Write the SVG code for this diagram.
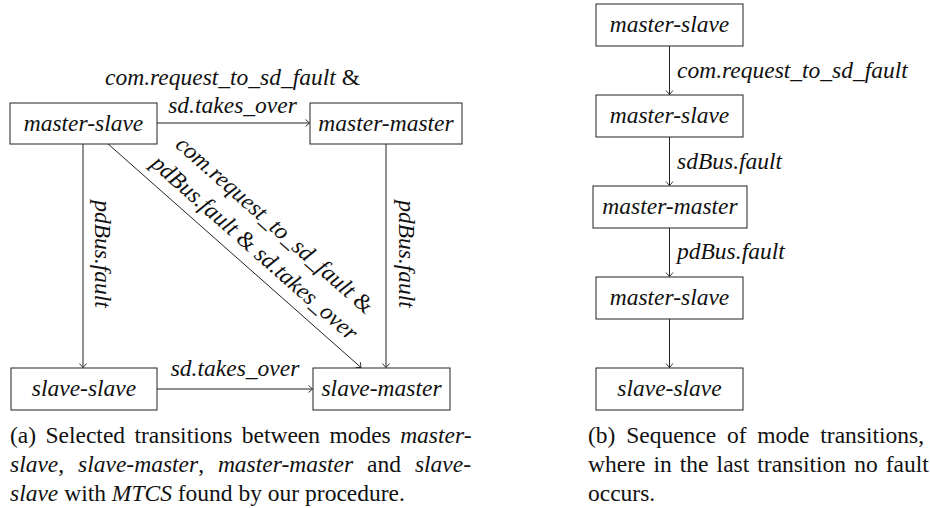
<svg xmlns="http://www.w3.org/2000/svg" width="930" height="508" viewBox="0 0 930 508" font-family="'Liberation Serif', 'DejaVu Serif', serif">
<style>
text{font-family:'Liberation Serif','DejaVu Serif',serif;font-size:23.5px;fill:#111}
.i{font-style:italic}
.c{text-anchor:middle}
.box{fill:#fff;stroke:#222;stroke-width:1}
.edge{fill:none;stroke:#222;stroke-width:1;marker-end:url(#arr)}
</style>
<defs>
<marker id="arr" markerUnits="userSpaceOnUse" viewBox="-6 -5 8 10" refX="0" refY="0" markerWidth="8" markerHeight="10" orient="auto">
<path d="M-4,-3.5 Q-1,-1 0,0 Q-1,1 -4,3.5" fill="none" stroke="#222" stroke-width="0.9"/>
</marker>
</defs>
<g id="connectors">
<line class="edge" x1="157" y1="123" x2="309.5" y2="123"/>
<line class="edge" x1="83" y1="144" x2="83" y2="367.5"/>
<line class="edge" x1="386" y1="144" x2="386" y2="367.5"/>
<line class="edge" x1="107" y1="143" x2="361" y2="367.5"/>
<line class="edge" x1="157" y1="389" x2="312.5" y2="389"/>
<line class="edge" x1="669.5" y1="46" x2="669.5" y2="94.5"/>
<line class="edge" x1="669.5" y1="137" x2="669.5" y2="185.5"/>
<line class="edge" x1="669.5" y1="228" x2="669.5" y2="276.5"/>
<line class="edge" x1="669.5" y1="319" x2="669.5" y2="367.5"/>
<text class="i c" x="232.5" y="85">com.request_to_sd_fault <tspan font-style="normal">&amp;</tspan></text>
<text class="i c" x="232.5" y="113">sd.takes_over</text>
<text class="i c" transform="translate(95,254) rotate(90)">pdBus.fault</text>
<text class="i c" transform="translate(399,254) rotate(90)">pdBus.fault</text>
<g transform="translate(107,143) rotate(41.4)">
<text class="i c" x="180" y="-42">com.request_to_sd_fault <tspan font-style="normal">&amp;</tspan></text>
<text class="i c" x="180" y="-11.5">pdBus.fault <tspan font-style="normal">&amp;</tspan> sd.takes_over</text>
</g>
<text class="i c" x="235" y="376">sd.takes_over</text>
<text class="i" x="677" y="78">com.request_to_sd_fault</text>
<text class="i" x="677" y="169">sdBus.fault</text>
<text class="i" x="677" y="259">pdBus.fault</text>
</g>
<g id="a-master-slave"><rect class="box" x="10" y="103" width="147" height="41"/><text class="i c" x="83.5" y="130.5">master-slave</text></g>
<g id="a-master-master"><rect class="box" x="310" y="103" width="152" height="41"/><text class="i c" x="386" y="130.5">master-master</text></g>
<g id="a-slave-slave"><rect class="box" x="11" y="368" width="146" height="42"/><text class="i c" x="84" y="396">slave-slave</text></g>
<g id="a-slave-master"><rect class="box" x="313" y="368" width="137" height="42"/><text class="i c" x="381.5" y="396">slave-master</text></g>
<g id="b-master-slave-1"><rect class="box" x="596" y="4" width="147" height="42"/><text class="i c" x="669.5" y="32">master-slave</text></g>
<g id="b-master-slave-2"><rect class="box" x="596" y="95" width="147" height="42"/><text class="i c" x="669.5" y="123">master-slave</text></g>
<g id="b-master-master"><rect class="box" x="593" y="186" width="154" height="42"/><text class="i c" x="670" y="214">master-master</text></g>
<g id="b-master-slave-3"><rect class="box" x="596" y="277" width="147" height="42"/><text class="i c" x="669.5" y="305">master-slave</text></g>
<g id="b-slave-slave"><rect class="box" x="596" y="368" width="147" height="42"/><text class="i c" x="669.5" y="396">slave-slave</text></g>
<g id="caption-a">
<text x="10" y="443" word-spacing="3.5">(a) Selected transitions between modes <tspan class="i">master-</tspan></text>
<text x="10" y="472" word-spacing="8"><tspan class="i">slave</tspan>, <tspan class="i">slave-master</tspan>, <tspan class="i">master-master</tspan> and <tspan class="i">slave-</tspan></text>
<text x="10" y="501"><tspan class="i">slave</tspan> with <tspan class="i">MTCS</tspan> found by our procedure.</text>
</g>
<g id="caption-b">
<text x="588" y="443" word-spacing="4.9">(b) Sequence of mode transitions,</text>
<text x="588" y="472" word-spacing="2.2">where in the last transition no fault</text>
<text x="588" y="501">occurs.</text>
</g>
</svg>
